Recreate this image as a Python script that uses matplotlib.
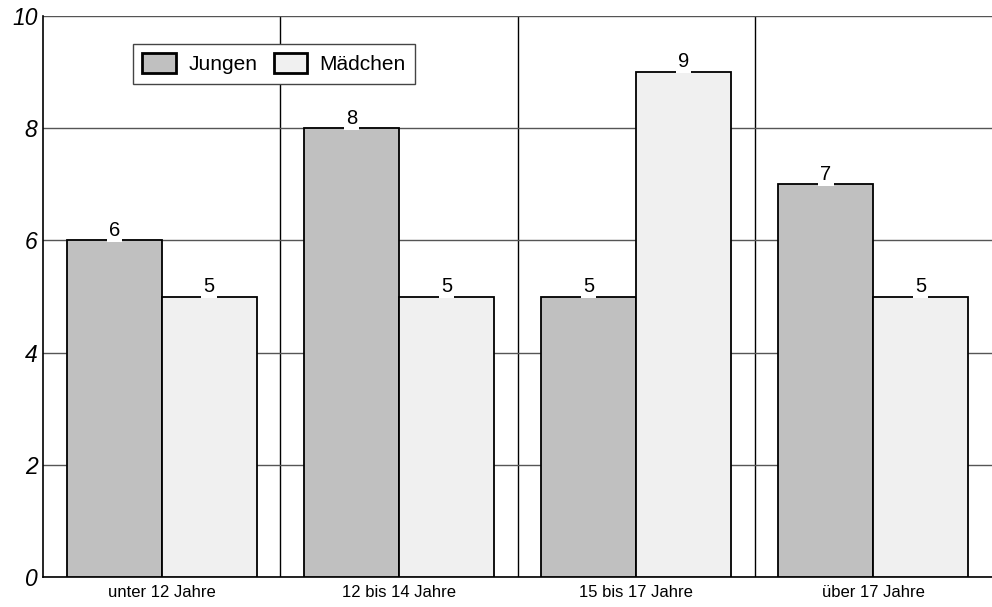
import matplotlib.pyplot as plt
import numpy as np

plt.rcParams['font.family'] = ['Liberation Sans', 'DejaVu Sans']

# Daten
kategorien = ['unter 12 Jahre', '12 bis 14 Jahre', '15 bis 17 Jahre', 'über 17 Jahre']
jungen = [6, 8, 5, 7]
maedchen = [5, 5, 9, 5]

fig = plt.figure(figsize=(9.92, 6.07), dpi=100)
ax = fig.add_axes([43 / 992, 30 / 607, 949 / 992, 561 / 607])

x = np.arange(len(kategorien))
breite = 0.4

b1 = ax.bar(x - breite / 2, jungen, breite, color='#c0c0c0', edgecolor='black', linewidth=1.3, label='Jungen', zorder=3)
b2 = ax.bar(x + breite / 2, maedchen, breite, color='#f0f0f0', edgecolor='black', linewidth=1.3, label='Mädchen', zorder=3)

# Werte über den Balken
for bars in (b1, b2):
    for rect in bars:
        h = rect.get_height()
        ax.annotate(f'{h:g}', (rect.get_x() + rect.get_width() / 2, h),
                    xytext=(0, 0.5), textcoords='offset points',
                    ha='center', va='bottom', fontsize=14.5, zorder=4,
                    bbox=dict(boxstyle='square,pad=0.1', facecolor='white', edgecolor='none'))

ax.set_xlim(-0.5, len(kategorien) - 0.5)
ax.set_ylim(0, 10)
ax.set_yticks(np.arange(0, 11, 2))
ax.set_yticklabels([str(v) for v in range(0, 11, 2)], fontsize=16.5, style='italic')
ax.set_xticks(x)
ax.set_xticklabels(kategorien, fontsize=12)
ax.set_xticks(x[:-1] + 0.5, minor=True)
ax.tick_params(axis='both', which='both', length=0)
ax.tick_params(axis='y', pad=4)
ax.tick_params(axis='x', pad=6)

# Gitterlinien
ax.grid(axis='y', which='major', color='#555555', linewidth=1)
ax.grid(axis='x', which='minor', color='black', linewidth=1)
ax.set_axisbelow(True)

for s in ['top', 'right']:
    ax.spines[s].set_visible(False)
ax.spines['left'].set_linewidth(1.2)
ax.spines['bottom'].set_linewidth(1.2)

leg = ax.legend(loc='upper left', bbox_to_anchor=(0.0948, 0.950), ncol=2, fontsize=15,
                fancybox=False, framealpha=1, edgecolor='#444444', borderaxespad=0,
                handlelength=1.6, handleheight=1.05, handletextpad=0.6,
                columnspacing=0.8, borderpad=0.45)
leg.get_frame().set_linewidth(1)
for p in leg.get_patches():
    p.set_linewidth(2)

fig.savefig('out.png', dpi=100)
